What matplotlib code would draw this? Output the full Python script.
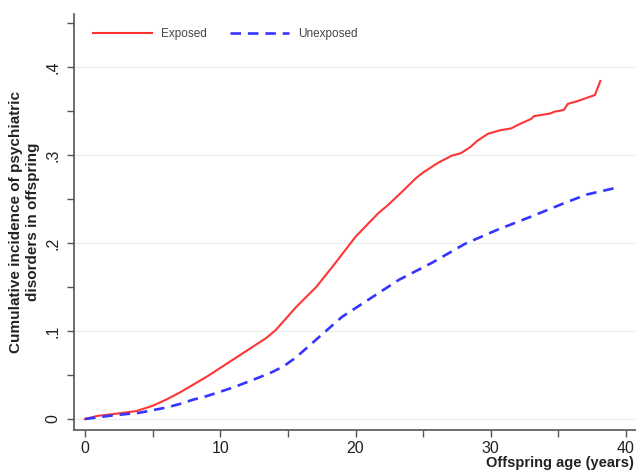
import matplotlib
matplotlib.use("Agg")
import matplotlib.pyplot as plt
from matplotlib.ticker import FixedLocator

plt.rcParams['font.family'] = ['Liberation Sans', 'DejaVu Sans']

exposed_age = [0, 0.9, 2.3, 3.8, 5.0, 6.0, 7.0, 8.0, 9.0, 11.2, 13.4, 14.1, 15.6, 17.1,
               18.5, 20.0, 21.7, 22.4, 23.5, 24.5, 25.0, 26.1, 27.1, 27.8, 28.5, 29.0, 29.8,
               30.7, 31.5, 32.0, 33.0, 33.2, 34.4, 34.7, 35.4, 35.7, 36.4, 37.7, 38.1]
exposed_inc = [0, 0.0035, 0.006, 0.009, 0.015, 0.022, 0.030, 0.039, 0.048, 0.070, 0.092,
               0.101, 0.127, 0.150, 0.177, 0.207, 0.234, 0.243, 0.259, 0.274, 0.280, 0.291,
               0.299, 0.302, 0.309, 0.316, 0.324, 0.328, 0.330, 0.334, 0.341, 0.344, 0.347,
               0.349, 0.351, 0.358, 0.361, 0.368, 0.384]

unexposed_age = [0, 2, 4, 5, 6, 7, 8, 9, 10, 11, 12, 13, 13.8, 14.7, 15.6, 17.3, 19.0,
                 20.7, 22.4, 23.2, 25.6, 28.1, 30.5, 33.0, 35.4, 37.1, 39.1]
unexposed_inc = [0, 0.004, 0.007, 0.010, 0.013, 0.017, 0.022, 0.026, 0.031, 0.036, 0.042,
                 0.048, 0.053, 0.060, 0.070, 0.093, 0.116, 0.133, 0.150, 0.158, 0.177,
                 0.199, 0.215, 0.230, 0.245, 0.255, 0.262]

x_ticks = [0, 10, 20, 30, 40]
y_ticks = [0, 0.1, 0.2, 0.3, 0.4]
y_ticklabels = ["0", ".1", ".2", ".3", ".4"]

fig = plt.figure(figsize=(6.36, 4.70), dpi=100)
ax = fig.add_axes([74 / 636, 40 / 470, (660 - 74) / 636, 416 / 470])

ax.plot(exposed_age, exposed_inc, color='#ff3535', lw=1.5, label='Exposed')
ax.plot(unexposed_age, unexposed_inc, color='#3535ff', lw=1.9,
        linestyle=(0, (4, 2.6)), label='Unexposed')

ax.set_xlim(-0.813, 42.51)
ax.set_ylim(-0.0125, 0.460)

ax.set_xticks(x_ticks)
ax.xaxis.set_minor_locator(FixedLocator([5, 15, 25, 35]))
ax.set_yticks(y_ticks)
ax.set_yticklabels(y_ticklabels, rotation=90, va='center')
ax.yaxis.set_minor_locator(FixedLocator([0.05, 0.15, 0.25, 0.35, 0.45]))

ax.tick_params(which='both', direction='out', length=5, width=1, color='#555555',
               labelsize=11.5, labelcolor='#222222')
ax.tick_params(axis='y', pad=5)
ax.tick_params(axis='x', pad=3)

ax.grid(axis='y', which='major', color='#e8f0f0', lw=1)
ax.set_axisbelow(True)
for s in ['top', 'right']:
    ax.spines[s].set_visible(False)
for s in ['left', 'bottom']:
    ax.spines[s].set_color('#555555')
    ax.spines[s].set_linewidth(1.2)

ax.set_ylabel("Cumulative incidence of psychiatric\ndisorders in offspring",
              fontsize=11, fontweight='bold', color='#222222', labelpad=4)
fig.text(634 / 636, 1 - 463 / 470, "Offspring age (years)", fontsize=10.5,
         fontweight='bold', color='#222222', ha='right', va='center')

fig.legend(loc='center left', bbox_to_anchor=(87 / 636, 1 - 34 / 470), ncol=2,
           frameon=False, borderpad=0, fontsize=8.5, handlelength=5,
           handletextpad=0.8, columnspacing=1.9, labelcolor='#444444')

fig.savefig("out.png", dpi=100)
